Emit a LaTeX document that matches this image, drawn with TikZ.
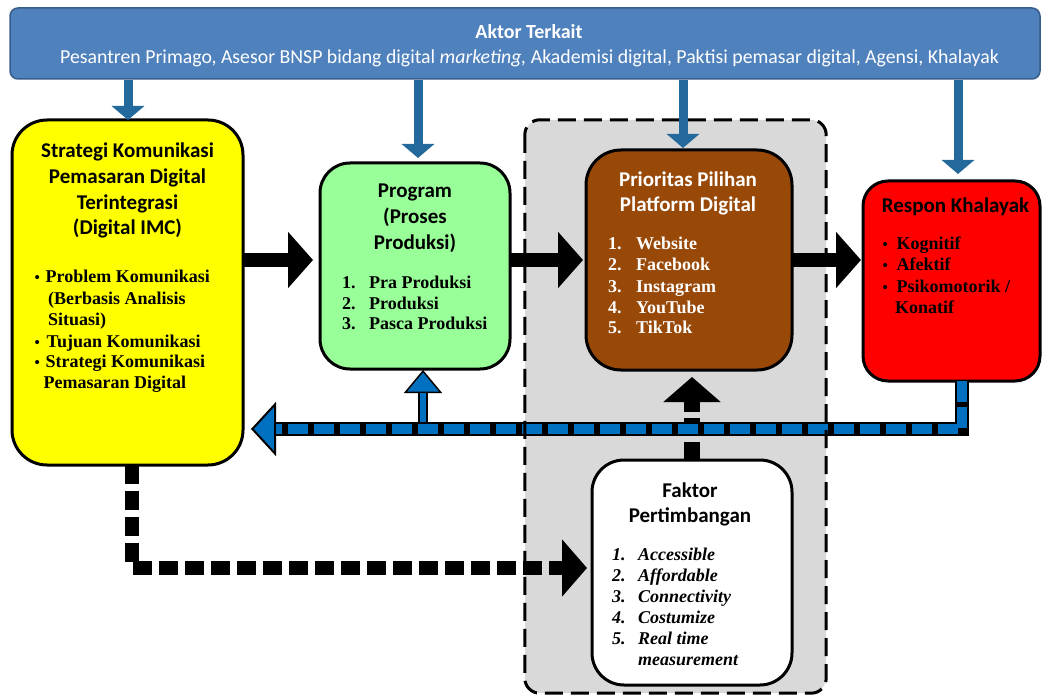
\documentclass[tikz,border=0pt]{standalone}
\usepackage{fontspec}
\setmainfont{Liberation Serif}
\newfontfamily\calib{Carlito}
\usetikzlibrary{arrows.meta}
\definecolor{bannerfill}{RGB}{79,129,189}
\definecolor{bannerdraw}{RGB}{56,93,138}
\definecolor{steel}{RGB}{36,105,155}
\definecolor{fbblue}{RGB}{0,112,192}
\definecolor{yelfill}{RGB}{255,255,0}
\definecolor{grnfill}{RGB}{153,255,153}
\definecolor{brnfill}{RGB}{152,72,7}
\definecolor{redfill}{RGB}{255,0,0}
\definecolor{contfill}{RGB}{217,217,217}
\begin{document}
\begin{tikzpicture}[x=1pt,y=-1pt,
  box/.style={draw=black, line width=3pt, inner sep=0pt, outer sep=0pt},
  hd/.style={font=\calib\bfseries\fontsize{21}{25}\selectfont, anchor=base, inner sep=0pt},
  li/.style={font=\bfseries\fontsize{18}{21}\selectfont, anchor=base west, inner sep=0pt},
  lii/.style={font=\bfseries\itshape\fontsize{18}{21}\selectfont, anchor=base west, inner sep=0pt},
  bul/.style={font=\bfseries\fontsize{15}{18}\selectfont, anchor=base west, inner sep=0pt},
  dnarrow/.style={draw=steel, line width=9pt, -{Triangle[length=14pt,width=32pt]}},
  blockarrow/.style={draw=black, line width=14pt, -{Triangle[length=25pt,width=55pt]}},
  dasharrow/.style={draw=black, line width=14pt, dash pattern=on 19pt off 7pt, -{Triangle[length=25pt,width=56pt]}},
]
\useasboundingbox (0,0) rectangle (1042,695);

% banner
\node[fill=bannerfill, draw=bannerdraw, line width=1.5pt, rounded corners=8pt,
      minimum width=1030pt, minimum height=71pt, inner sep=0pt] (bann) at (525,43.5) {};
\node[font=\calib\bfseries\fontsize{20}{24}\selectfont, text=white, anchor=base, inner sep=0pt] (ttl) at (529,39) {Aktor Terkait};
\node[font=\calib\fontsize{19.8}{24}\selectfont, text=white, anchor=base, inner sep=0pt] (sub) at (529.5,64)
  {Pesantren Primago, Asesor BNSP bidang digital \textit{marketing,} Akademisi digital, Paktisi pemasar digital, Agensi, Khalayak};

% grey container (fill)
\node[fill=contfill, rounded corners=15pt, minimum width=301pt, minimum height=573pt, inner sep=0pt] (cont) at (675.5,406.5) {};

% boxes
\node[box, fill=yelfill, rounded corners=35pt, minimum width=231pt, minimum height=345pt] (yel) at (127.5,292.5) {};
\node[box, fill=grnfill, rounded corners=30pt, minimum width=190pt, minimum height=206pt] (grn) at (415,266) {};
\node[box, fill=brnfill, rounded corners=35pt, minimum width=206pt, minimum height=220pt] (brn) at (689,260) {};
\node[box, fill=redfill, rounded corners=25pt, minimum width=177pt, minimum height=200pt] (red) at (951.5,281) {};
\node[box, fill=white, rounded corners=32pt, minimum width=200pt, minimum height=225pt] (fak) at (692,572.5) {};

% helper coordinates
\coordinate (ya) at (0,260);
\coordinate (ex) at (132,0);
\coordinate (ey) at (0,568);
\coordinate (fx) at (962,0);
\coordinate (fy) at (0,429);
\coordinate (ux) at (423,0);
\coordinate (d1) at (128,0);
\coordinate (d2) at (418,0);
\coordinate (d3) at (683,0);
\coordinate (d4) at (958,0);

% solid black block arrows
\draw[blockarrow, shorten >=7pt] (yel.east |- ya) -- (grn.west |- ya);
\draw[blockarrow, shorten >=3pt] (grn.east |- ya) -- (brn.west |- ya);
\draw[blockarrow, shorten >=2pt] (brn.east |- ya) -- (red.west |- ya);

% dashed black arrows
\draw[dasharrow, shorten >=5pt] (yel.south -| ex) -- (ex |- ey) -- (fak.west |- ey);
\draw[dasharrow, line width=16pt, dash pattern=on 18pt off 6pt, shorten >=7pt] (fak.north) -- (brn.south -| fak.north);

% blue up arrow to program
\draw[line width=10pt, -{Triangle[length=23pt,width=38pt,line width=1.5pt,fill=fbblue]}, shorten >=1pt] (ux |- fy) -- (grn.south -| ux);
\draw[fbblue, line width=6pt, shorten >=24pt] (ux |- fy) -- (grn.south -| ux);

% blue dashed feedback arrow
\draw[line width=14pt, -{Triangle[length=25pt,width=54pt,line width=2pt,fill=fbblue]}, shorten >=8pt]
  (red.south -| fx) -- (fx |- fy) -- (yel.east |- fy);
\draw[fbblue, line width=10.5pt, dash pattern=on 20.5pt off 5.5pt, shorten >=33pt]
  (red.south -| fx) -- (fx |- fy) -- (yel.east |- fy);

% container border
\draw[black, line width=3pt, dash pattern=on 18pt off 8pt, rounded corners=15pt] (cont.north west) rectangle (cont.south east);

% blue down arrows from banner
\draw[dnarrow] (bann.south -| d1) -- (yel.north -| d1);
\draw[dnarrow, shorten >=5pt] (bann.south -| d2) -- (grn.north -| d2);
\draw[dnarrow, shorten >=2pt] (bann.south -| d3) -- (brn.north -| d3);
\draw[dnarrow, shorten >=7pt] (bann.south -| d4) -- (red.north -| d4);

% yellow box text
\node[hd] (yh1) at (127.5,158) {Strategi Komunikasi};
\node[hd] (yh2) at (127.5,183.6) {Pemasaran Digital};
\node[hd] (yh3) at (127.5,209.2) {Terintegrasi};
\node[hd] (yh4) at (127.5,234.8) {(Digital IMC)};
\node[bul] (yb1) at (34.5,283) {•};
\node[li] (yl1) at (45.5,283) {Problem Komunikasi};
\node[li] (yl2) at (48,305) {(Berbasis Analisis};
\node[li] (yl3) at (48,325) {Situasi)};
\node[bul] (yb2) at (34.5,347) {•};
\node[li] (yl4) at (46.5,347) {Tujuan Komunikasi};
\node[bul] (yb3) at (34.5,367) {•};
\node[li] (yl5) at (45.5,367) {Strategi Komunikasi};
\node[li] (yl6) at (43.5,388) {Pemasaran Digital};

% green box text
\node[hd] (gh1) at (415,198) {Program};
\node[hd] (gh2) at (415,224) {(Proses};
\node[hd] (gh3) at (415,250) {Produksi)};
\foreach \t [count=\i] in {Pra Produksi, Produksi, Pasca Produksi} {
  \node[li] (gn\i) at (342,{288+21*(\i-1)}) {\i.};
  \node[li] (gl\i) at (369,{288+21*(\i-1)}) {\t};
}

% brown box text
\node[hd, text=white] (bh1) at (688,187) {Prioritas Pilihan};
\node[hd, text=white] (bh2) at (688,212) {Platform Digital};
\foreach \t [count=\i] in {Website, Facebook, Instagram, YouTube, TikTok} {
  \node[li, text=white] (bn\i) at (608,{250+21*(\i-1)}) {\i.};
  \node[li, text=white] (bl\i) at (636,{250+21*(\i-1)}) {\t};
}

% red box text
\node[hd] (rh1) at (955.5,213) {Respon Khalayak};
\foreach \t [count=\i] in {Kognitif, Afektif, Psikomotorik /} {
  \node[bul] (rb\i) at (882.5,{250+21*(\i-1)}) {•};
  \node[li] (rl\i) at (896.5,{250+21*(\i-1)}) {\t};
}
\node[li] (rl4) at (895,313) {Konatif};

% faktor box text
\node[hd] (fh1) at (690,497) {Faktor};
\node[hd] (fh2) at (690,522) {Pertimbangan};
\foreach \t [count=\i] in {Accessible, Affordable, Connectivity, Costumize, Real time} {
  \node[lii] (fn\i) at (612,{560+21*(\i-1)}) {\i.};
  \node[lii] (fl\i) at (638,{560+21*(\i-1)}) {\t};
}
\node[lii] (fl6) at (638,665) {measurement};

\end{tikzpicture}
\end{document}
